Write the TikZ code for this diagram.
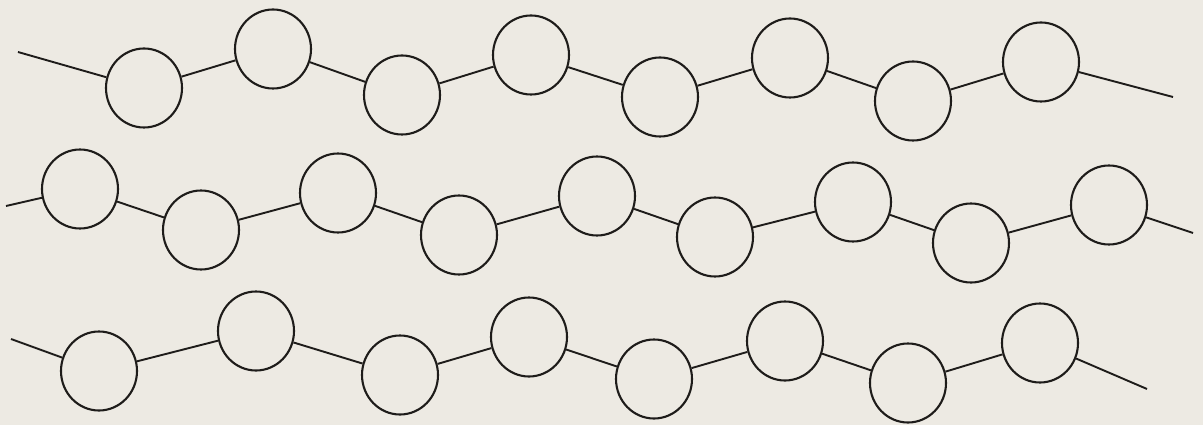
\documentclass[tikz,border=0pt]{standalone}
\usetikzlibrary{shapes.geometric}
\definecolor{paper}{RGB}{237,234,227}
\definecolor{ink}{RGB}{30,28,26}
\begin{document}
\begin{tikzpicture}[x=1pt,y=-1pt,
  bead/.style={ellipse,draw=ink,line width=2.1pt,minimum width=76pt,minimum height=79pt,inner sep=0pt},
  link/.style={draw=ink,line width=1.9pt}]
\fill[paper] (0,0) rectangle (1203,425);
\useasboundingbox (0,0) rectangle (1203,425);
% row 1
\node[bead] (a1) at (144,88) {};
\node[bead] (a2) at (273,49) {};
\node[bead] (a3) at (402,95) {};
\node[bead] (a4) at (531,55) {};
\node[bead] (a5) at (660,97) {};
\node[bead] (a6) at (790,58) {};
\node[bead] (a7) at (913,101) {};
\node[bead] (a8) at (1041,62) {};
\coordinate (as) at (18,52);
\coordinate (ae) at (1173,97);
\draw[link] (as) -- (a1) -- (a2) -- (a3) -- (a4) -- (a5) -- (a6) -- (a7) -- (a8) -- (ae);
% row 2
\node[bead] (b1) at (80,189) {};
\node[bead] (b2) at (201,230) {};
\node[bead] (b3) at (338,193) {};
\node[bead] (b4) at (459,235) {};
\node[bead] (b5) at (597,196) {};
\node[bead] (b6) at (715,237) {};
\node[bead] (b7) at (853,202) {};
\node[bead] (b8) at (971,243) {};
\node[bead] (b9) at (1109,205) {};
\coordinate (bs) at (6,206);
\coordinate (be) at (1193,233);
\draw[link] (bs) -- (b1) -- (b2) -- (b3) -- (b4) -- (b5) -- (b6) -- (b7) -- (b8) -- (b9) -- (be);
% row 3
\node[bead] (c1) at (99,371) {};
\node[bead] (c2) at (256,331) {};
\node[bead] (c3) at (400,375) {};
\node[bead] (c4) at (529,337) {};
\node[bead] (c5) at (654,379) {};
\node[bead] (c6) at (785,341) {};
\node[bead] (c7) at (908,383) {};
\node[bead] (c8) at (1040,343) {};
\coordinate (cs) at (11,339);
\coordinate (ce) at (1147,389);
\draw[link] (cs) -- (c1) -- (c2) -- (c3) -- (c4) -- (c5) -- (c6) -- (c7) -- (c8) -- (ce);
\end{tikzpicture}
\end{document}
